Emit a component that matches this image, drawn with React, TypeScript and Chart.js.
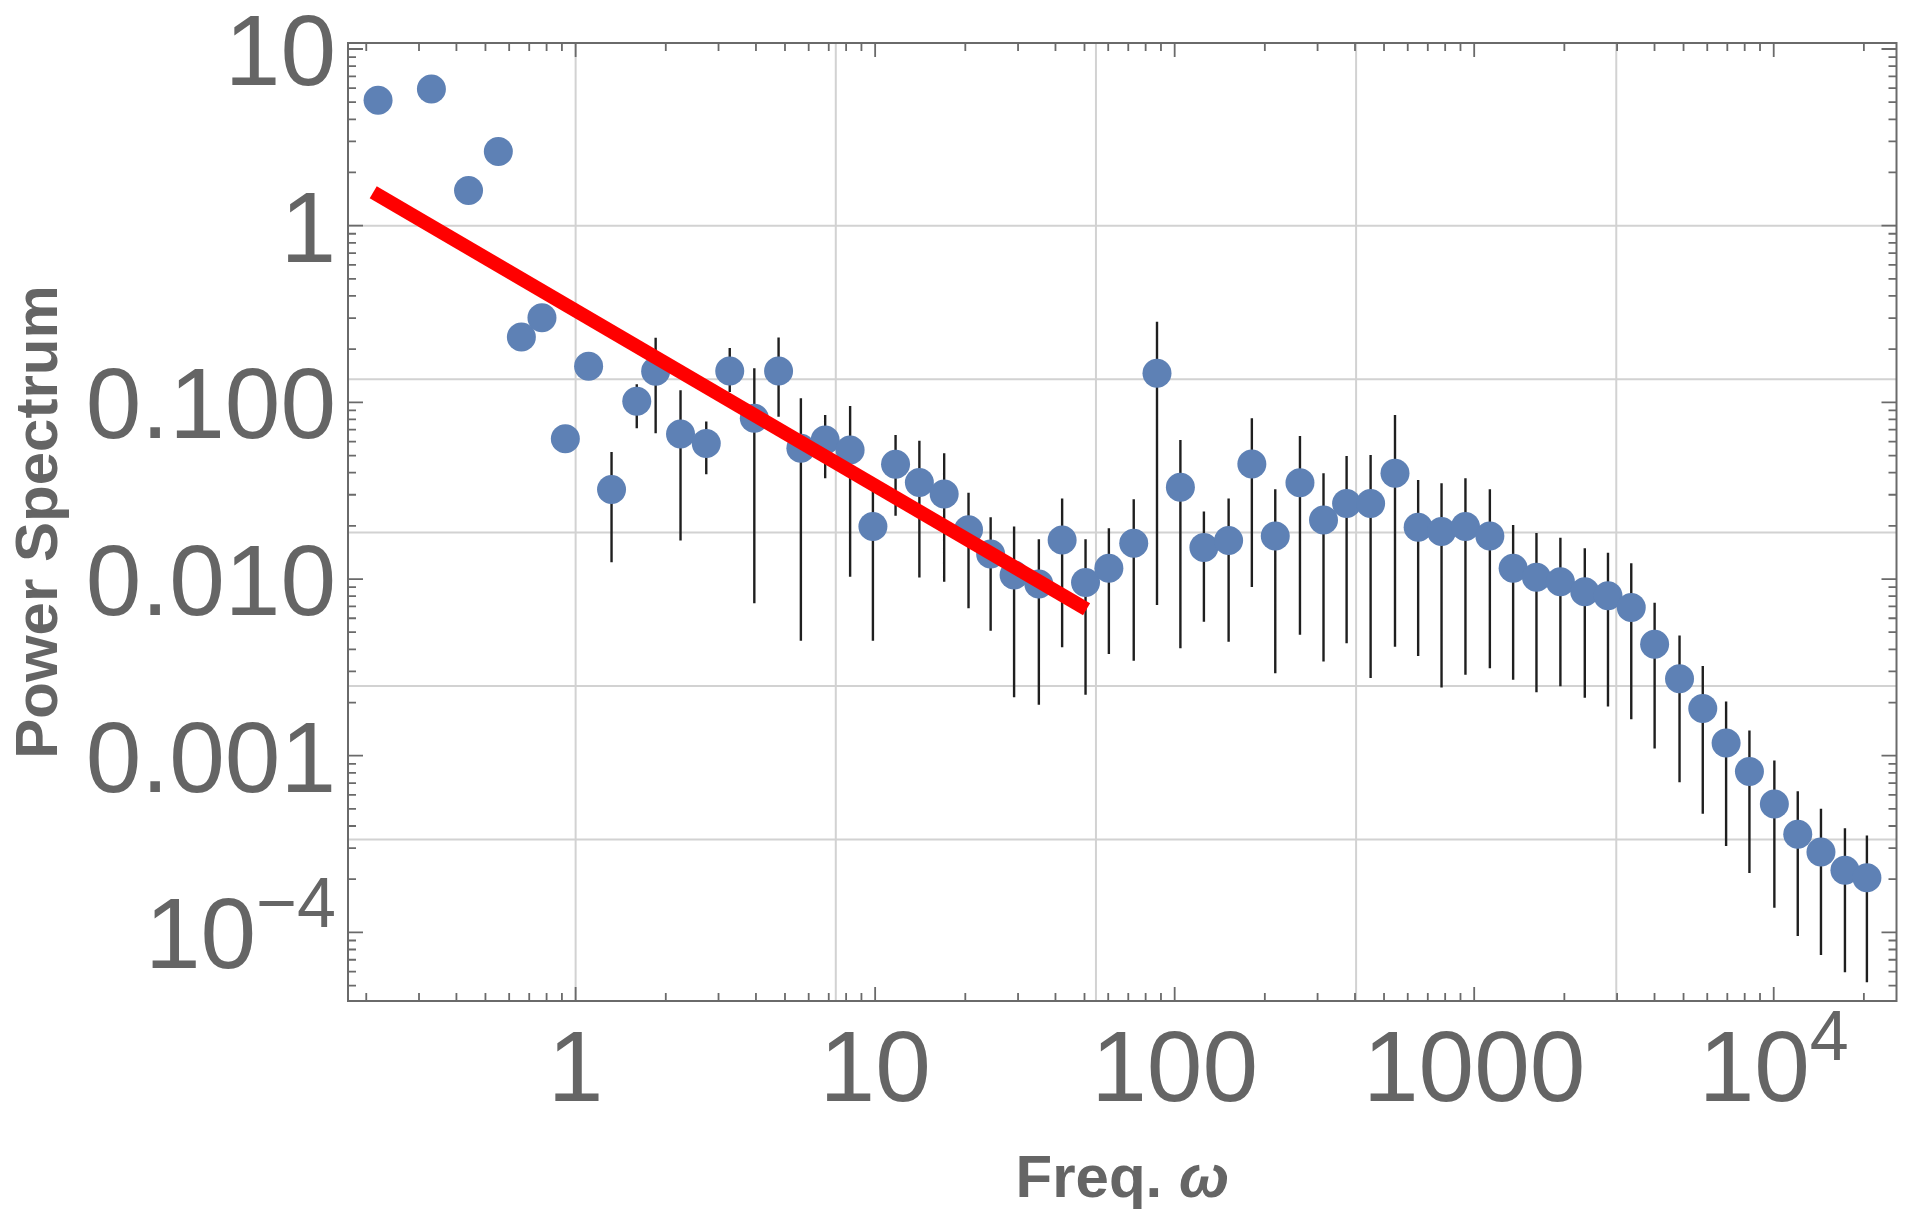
import { useEffect, useRef } from 'react';
import { Chart, registerables } from 'chart.js';

Chart.register(...registerables);

// ---- data ----
const freq = [
  0.219, 0.33, 0.439, 0.552, 0.659, 0.772, 0.924, 1.105, 1.318, 1.6,
  1.85, 2.24, 2.73, 3.27, 3.95, 4.76, 5.65, 6.81, 8.25, 9.83,
  11.7, 14.05, 17.0, 20.5, 24.3, 29.1, 35.2, 42.1, 50.4, 60.3,
  73.0, 87.3, 104.5, 125.2, 151.4, 181, 216.7, 262, 314, 375,
  451, 544, 650, 778, 935, 1128, 1349, 1614, 1940, 2340,
  2797, 3345, 4003, 4848, 5796, 6935, 8297, 10050, 12030, 14380,
  17290, 20470,
];
const power = [
  5.12, 5.94, 1.58, 2.63, 0.234, 0.301, 0.0622, 0.16, 0.0321, 0.1014,
  0.15, 0.0661, 0.0584, 0.1506, 0.0813, 0.1506, 0.055, 0.0613, 0.0538, 0.0198,
  0.0447, 0.0352, 0.0303, 0.019, 0.01387, 0.01055, 0.00938, 0.01664, 0.00955, 0.01151,
  0.01595, 0.146, 0.0331, 0.01506, 0.0165, 0.0448, 0.01754, 0.0351, 0.0216, 0.0268,
  0.0268, 0.0397, 0.01964, 0.01855, 0.0198, 0.01754, 0.0115, 0.01025, 0.00964, 0.00848,
  0.00805, 0.0069, 0.00428, 0.00273, 0.00185, 0.00118, 0.000813, 0.000533, 0.000359, 0.000285,
  0.000225, 0.000204,
];
const errHigh = [
  null, null, null, null, null, null, null, null, 0.0523, 0.1264,
  0.232, 0.117, 0.0778, 0.203, 0.156, 0.233, 0.1055, 0.0849, 0.0954, 0.035,
  0.0654, 0.0607, 0.0515, 0.0308, 0.0224, 0.0198, 0.0168, 0.0286, 0.0168, 0.01938,
  0.0283, 0.286, 0.0613, 0.0241, 0.0286, 0.0813, 0.0322, 0.0645, 0.0397, 0.0497,
  0.0504, 0.0849, 0.0364, 0.0348, 0.0372, 0.0322, 0.0202, 0.01823, 0.01713, 0.01493,
  0.0141, 0.01227, 0.00733, 0.00479, 0.00322, 0.00203, 0.00139, 0.000938, 0.000629, 0.000501,
  0.000388, 0.000353,
];
const errLow = [
  null, null, null, null, null, null, null, null, 0.01245, 0.0713,
  0.0668, 0.0165, 0.0392, 0.1145, 0.0073, 0.083, 0.00448, 0.0372, 0.0103, 0.00448,
  0.0228, 0.0102, 0.00966, 0.00684, 0.0051, 0.00214, 0.00194, 0.00411, 0.00221, 0.00377,
  0.00345, 0.00713, 0.00406, 0.00574, 0.00442, 0.009, 0.00293, 0.00483, 0.00341, 0.00433,
  0.00275, 0.00414, 0.00367, 0.00243, 0.00287, 0.00313, 0.00269, 0.00229, 0.00247, 0.00213,
  0.0019, 0.00161, 0.0011, 0.000708, 0.000469, 0.000308, 0.000217, 0.000138, 0.0000953, 0.0000745,
  0.0000594, 0.0000522,
];
const fitFreq = [0.211, 50.8];
const fitPower = [1.545, 0.00675];

const xTickValues = [1, 10, 100, 1000, 10000];
const xTickLabels = ['1', '10', '100', '1000', '10^4'];
const yTickValues = [10, 1, 0.1, 0.01, 0.001, 0.0001];
const yTickLabels = ['10', '1', '0.100', '0.010', '0.001', '10^\u22124'];
const xGridValues = [1, 7.389, 54.6, 403.4, 2981];
const yGridValues = [1, 0.1353, 0.01832, 0.002479, 0.0003355];

const xTitleText = 'Freq. ';
const xTitleSymbol = '\u03c9';
const yTitleText = 'Power Spectrum';

const X_MIN = 0.1738;
const X_MAX = 25700;
const Y_MIN = 4.09e-5;
const Y_MAX = 10.81;

const LABEL_COLOR = '#656565';
const FONT = '"Liberation Sans", Arial, sans-serif';

function drawTickLabel(ctx: CanvasRenderingContext2D, label: string, ax: number, baseY: number, align: 'center' | 'right') {
  const parts = label.split('^');
  const base = parts[0];
  const sup = parts[1];
  const big = `100px ${FONT}`;
  const small = `70px ${FONT}`;
  ctx.font = big;
  const wb = ctx.measureText(base).width;
  let ws = 0;
  if (sup) {
    ctx.font = small;
    ws = ctx.measureText(sup).width;
  }
  const total = wb + ws;
  const sx = align === 'center' ? ax - total / 2 : ax - total;
  ctx.textAlign = 'left';
  ctx.textBaseline = 'alphabetic';
  ctx.font = big;
  ctx.fillText(base, sx, baseY);
  if (sup) {
    ctx.font = small;
    ctx.fillText(sup, sx + wb, baseY - 41);
  }
}

const framePlugin = {
  id: 'mmaFrame',
  beforeDatasetsDraw(chart: any) {
    const { ctx, chartArea: a, scales } = chart;
    const x = scales.x;
    const y = scales.y;
    ctx.save();
    ctx.strokeStyle = '#d2d2d2';
    ctx.lineWidth = 2;
    ctx.beginPath();
    for (const v of xGridValues) {
      const px = x.getPixelForValue(v);
      ctx.moveTo(px, a.top);
      ctx.lineTo(px, a.bottom);
    }
    for (const v of yGridValues) {
      const py = y.getPixelForValue(v);
      ctx.moveTo(a.left, py);
      ctx.lineTo(a.right, py);
    }
    ctx.stroke();
    ctx.restore();
  },
  afterDraw(chart: any) {
    const { ctx, chartArea: a, scales } = chart;
    const x = scales.x;
    const y = scales.y;
    ctx.save();
    // frame
    ctx.strokeStyle = '#6a6a6a';
    ctx.lineWidth = 2;
    ctx.strokeRect(a.left, a.top, a.right - a.left, a.bottom - a.top);
    // ticks
    ctx.lineWidth = 1.8;
    ctx.beginPath();
    const tickSet = (min: number, max: number) => {
      const res: { v: number; major: boolean }[] = [];
      for (let k = Math.floor(Math.log10(min)); k <= Math.ceil(Math.log10(max)); k++) {
        for (let m = 1; m <= 9; m++) {
          const v = m * Math.pow(10, k);
          if (v >= min && v <= max) res.push({ v, major: m === 1 });
        }
      }
      return res;
    };
    for (const t of tickSet(X_MIN, X_MAX)) {
      const px = x.getPixelForValue(t.v);
      const len = t.major ? 14 : 8;
      ctx.moveTo(px, a.bottom);
      ctx.lineTo(px, a.bottom - len);
      ctx.moveTo(px, a.top);
      ctx.lineTo(px, a.top + len);
    }
    for (const t of tickSet(Y_MIN, Y_MAX)) {
      const py = y.getPixelForValue(t.v);
      const len = t.major ? 15 : 8;
      ctx.moveTo(a.left, py);
      ctx.lineTo(a.left + len, py);
      ctx.moveTo(a.right, py);
      ctx.lineTo(a.right - len, py);
    }
    ctx.stroke();

    // tick labels
    ctx.fillStyle = LABEL_COLOR;
    xTickValues.forEach((v, i) => {
      drawTickLabel(ctx, xTickLabels[i], x.getPixelForValue(v), a.bottom + 100, 'center');
    });
    yTickValues.forEach((v, i) => {
      drawTickLabel(ctx, yTickLabels[i], a.left - 12, y.getPixelForValue(v) + 36, 'right');
    });

    // x title
    const cx = (a.left + a.right) / 2;
    ctx.font = `bold 60px ${FONT}`;
    const w1 = ctx.measureText(xTitleText).width;
    ctx.font = `italic bold 60px ${FONT}`;
    const w2 = ctx.measureText(xTitleSymbol).width;
    const sx = cx - (w1 + w2) / 2;
    ctx.textAlign = 'left';
    ctx.textBaseline = 'alphabetic';
    ctx.font = `bold 60px ${FONT}`;
    ctx.fillText(xTitleText, sx, 1197);
    ctx.font = `italic bold 60px ${FONT}`;
    ctx.fillText(xTitleSymbol, sx + w1, 1197);

    // y title
    ctx.translate(57, (a.top + a.bottom) / 2);
    ctx.rotate(-Math.PI / 2);
    ctx.font = `bold 60px ${FONT}`;
    ctx.textAlign = 'center';
    ctx.fillText(yTitleText, 0, 0);
    ctx.restore();
  },
};

export default function App() {
  const ref = useRef<HTMLCanvasElement | null>(null);
  useEffect(() => {
    if (!ref.current) return;
    const errData: { x: number; y: number | null }[] = [];
    freq.forEach((f, i) => {
      const lo = errLow[i];
      const hi = errHigh[i];
      if (lo != null && hi != null) {
        errData.push({ x: f, y: lo }, { x: f, y: hi }, { x: f, y: null });
      }
    });
    const chart = new Chart(ref.current, {
      type: 'scatter',
      data: {
        datasets: [
          {
            label: 'fit',
            data: fitFreq.map((f, i) => ({ x: f, y: fitPower[i] })),
            showLine: true,
            borderColor: '#ff0000',
            borderWidth: 14,
            borderCapStyle: 'butt',
            pointRadius: 0,
            order: 1,
          },
          {
            label: 'spectrum',
            data: freq.map((f, i) => ({ x: f, y: power[i] })),
            backgroundColor: '#5e81b5',
            borderWidth: 0,
            pointRadius: 14.5,
            pointHoverRadius: 14.5,
            order: 2,
          },
          {
            label: 'errors',
            data: errData as any,
            showLine: true,
            spanGaps: false,
            borderColor: '#1f1f1f',
            borderWidth: 2.4,
            pointRadius: 0,
            order: 3,
          },
        ],
      },
      options: {
        responsive: false,
        maintainAspectRatio: false,
        animation: false,
        devicePixelRatio: 1,
        layout: { padding: { left: 348, right: 12, top: 43, bottom: 209 } },
        plugins: { legend: { display: false }, tooltip: { enabled: false } },
        events: [],
        scales: {
          x: { type: 'logarithmic', min: X_MIN, max: X_MAX, display: false },
          y: { type: 'logarithmic', min: Y_MIN, max: Y_MAX, display: false },
        },
      },
      plugins: [framePlugin],
    } as any);
    return () => chart.destroy();
  }, []);
  return (
    <div style={{ position: 'fixed', left: 0, top: 0, width: 1911, height: 1210, background: '#fff' }}>
      <canvas ref={ref} width={1911} height={1210} style={{ display: 'block', width: 1911, height: 1210 }} />
    </div>
  );
}
